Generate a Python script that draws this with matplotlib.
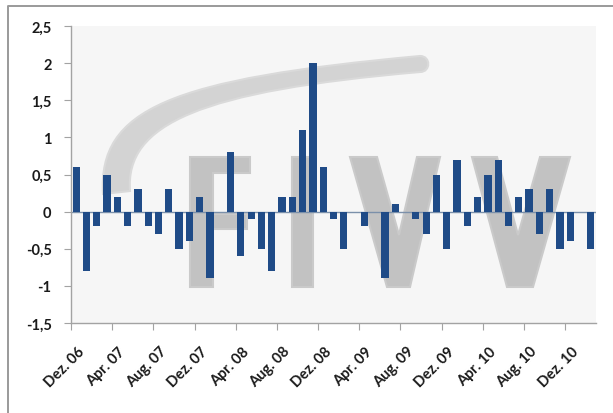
import matplotlib
matplotlib.use("Agg")
import matplotlib.pyplot as plt
from matplotlib.lines import Line2D
from matplotlib.patches import PathPatch, Polygon
from matplotlib.path import Path
from matplotlib.ticker import FuncFormatter, MultipleLocator
from matplotlib.transforms import Affine2D, ScaledTranslation, blended_transform_factory

# monthly values, Dez. 06 .. Feb. 11
months = [
    "Dez 06", "Jan 07", "Feb 07", "Mar 07", "Apr 07", "Mai 07", "Jun 07", "Jul 07",
    "Aug 07", "Sep 07", "Okt 07", "Nov 07", "Dez 07", "Jan 08", "Feb 08", "Mar 08",
    "Apr 08", "Mai 08", "Jun 08", "Jul 08", "Aug 08", "Sep 08", "Okt 08", "Nov 08",
    "Dez 08", "Jan 09", "Feb 09", "Mar 09", "Apr 09", "Mai 09", "Jun 09", "Jul 09",
    "Aug 09", "Sep 09", "Okt 09", "Nov 09", "Dez 09", "Jan 10", "Feb 10", "Mar 10",
    "Apr 10", "Mai 10", "Jun 10", "Jul 10", "Aug 10", "Sep 10", "Okt 10", "Nov 10",
    "Dez 10", "Jan 11", "Feb 11",
]
values = [
    0.6, -0.8, -0.2, 0.5, 0.2, -0.2, 0.3, -0.2,
    -0.3, 0.3, -0.5, -0.4, 0.2, -0.9, 0.0, 0.8,
    -0.6, -0.1, -0.5, -0.8, 0.2, 0.2, 1.1, 2.0,
    0.6, -0.1, -0.5, 0.0, -0.2, 0.0, -0.9, 0.1,
    0.0, -0.1, -0.3, 0.5, -0.5, 0.7, -0.2, 0.2,
    0.5, 0.7, -0.2, 0.2, 0.3, -0.3, 0.3, -0.5,
    -0.4, 0.0, -0.5,
]
tick_labels = [
    "Dez. 06", "Apr. 07", "Aug. 07", "Dez. 07", "Apr. 08", "Aug. 08", "Dez. 08",
    "Apr. 09", "Aug. 09", "Dez. 09", "Apr. 10", "Aug. 10", "Dez. 10",
]

W, H = 613, 414
BAR = "#1f4b87"
AXIS = "#a3a3a3"
TEXT = "#1a1a1a"
FONT = ["Lato", "DejaVu Sans"]

fig = plt.figure(figsize=(W / 100, H / 100), dpi=100)
fig.patch.set_facecolor("white")
ax = fig.add_axes([71 / W, 1 - 324 / H, 525 / W, 297 / H])
ax.set_facecolor("#f6f6f6")

# pixel coordinates (origin top left) for the decoration
px = Affine2D().scale(1 / W, -1 / H).translate(0, 1) + fig.transFigure

# outer frame, only left and top edge
fig.add_artist(Line2D([8, 8, W], [H, 7, 7], transform=px, color="#9a9a9a", lw=1.4))

# logo watermark: swoosh
verts = [
    (103, 195), (98, 110), (170, 80), (420, 57),
    (431, 57), (431, 73), (420, 73),
    (200, 92), (125, 125), (130, 192),
    (103, 195),
]
codes = [Path.MOVETO] + [Path.CURVE4] * 9 + [Path.CLOSEPOLY]
ax.add_patch(PathPatch(Path(verts, codes), transform=px, facecolor="#d3d3d3",
                       edgecolor="#dadada", lw=1.5, zorder=0.3, clip_on=False))

# logo watermark: letters F I V V
grey = "#c2c2c2"
letters = [
    [(190, 158), (250, 158), (250, 174), (213, 174), (213, 215), (247, 215),
     (247, 230), (213, 230), (213, 288), (190, 288)],
    [(292, 158), (313, 158), (313, 288), (292, 288)],
    [(350, 158), (377, 158), (399, 236), (417, 158), (440, 158), (410, 288), (387, 288)],
    [(472, 158), (497, 158), (518, 236), (540, 158), (570, 158), (533, 288), (507, 288)],
]
for pts in letters:
    ax.add_patch(Polygon(pts, closed=True, transform=px, facecolor=grey,
                         edgecolor="#cacaca", lw=1.5, zorder=0.4, clip_on=False))

x = list(range(len(values)))
ax.axhline(0, color="#7b90aa", lw=1, zorder=0.8)
ax.bar(x, values, width=0.7, color=BAR, zorder=1)

ax.set_xlim(-0.5, len(values) - 0.5)
ax.set_ylim(-1.5, 2.5)
ax.yaxis.set_major_locator(MultipleLocator(0.5))
ax.yaxis.set_major_formatter(FuncFormatter(lambda v, pos: f"{v:g}".replace(".", ",")))

for side in ["top", "right"]:
    ax.spines[side].set_visible(False)
for side in ["left", "bottom"]:
    ax.spines[side].set_color(AXIS)
    ax.spines[side].set_linewidth(1)

tick_pos = [-0.5 + 4 * i for i in range(len(tick_labels))]
ax.set_xticks(tick_pos)
ax.set_xticklabels([])
ax.tick_params(axis="x", direction="out", length=5, color=AXIS)
ax.tick_params(axis="y", direction="out", length=5, color=AXIS, pad=9)
for lbl in ax.get_yticklabels():
    lbl.set_fontfamily(FONT)
    lbl.set_fontweight("bold")
    lbl.set_fontsize(10.5)
    lbl.set_color(TEXT)

# rotated month labels, hung below each tick
trans = blended_transform_factory(ax.transData, ax.transAxes) + ScaledTranslation(
    0.11, -0.26, fig.dpi_scale_trans)
for pos, lab in zip(tick_pos, tick_labels):
    ax.text(pos, 0, lab, transform=trans, rotation=45, ha="right", va="center",
            rotation_mode="anchor", fontsize=10.5, fontweight="bold",
            family=FONT, color=TEXT)

fig.savefig("out.png", dpi=100)
